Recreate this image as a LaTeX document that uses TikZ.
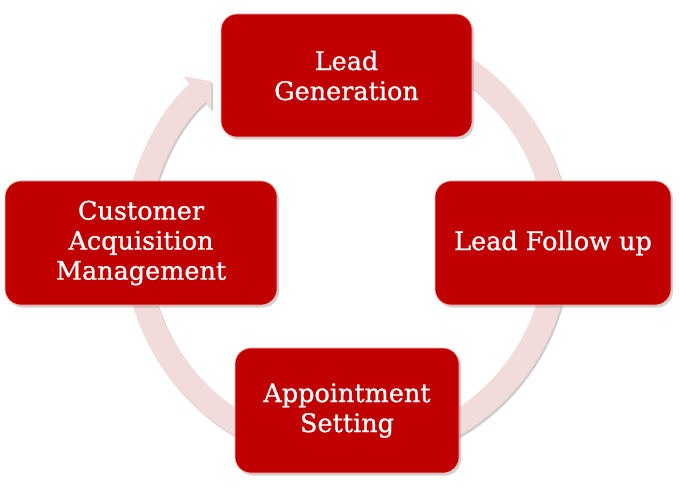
\documentclass[tikz,border=0pt]{standalone}
\usepackage{fontspec}
\setmainfont{DejaVu Serif}
\newfontfamily\stagefont[FakeBold=0.9]{DejaVu Serif}
\usetikzlibrary{arrows.meta, shadows}

\definecolor{boxred}{HTML}{C00000}
\definecolor{ringpink}{HTML}{F2DCDB}

\begin{document}
\begin{tikzpicture}[x=1pt, y=1pt,
    stage/.style={draw=red!30!white, line width=0.6pt, fill=boxred, text=white,
        rounded corners=16pt, align=center, inner sep=4pt,
        font=\stagefont\fontsize{25.5}{30}\selectfont,
        drop shadow={shadow xshift=2pt, shadow yshift=-2.5pt, opacity=0.35}},
    ring/.style={line width=24pt, draw=ringpink,
        -{Triangle[length=18pt, width=42pt]}},
    ringshadow/.style={line width=24pt, draw=black, opacity=0.2,
        -{Triangle[length=18pt, width=42pt]}}]
    \useasboundingbox[fill=white] (0, 0) rectangle (680, 488);

    \coordinate (mid) at (347, 245);

    % cycle ring behind the boxes
    \draw[ringshadow] ([shift={(1.5, -2)}]mid) ++(80:211) arc[start angle=80, end angle=-230, radius=211];
    \draw[ring] (mid) ++(80:211) arc[start angle=80, end angle=-230, radius=211];

    \node[stage, minimum width=251pt, minimum height=123pt] (gen) at (346.5, 412.5) {Lead\\Generation};
    \node[stage, minimum width=236pt, minimum height=124pt] (follow) at (553, 245) {Lead Follow up};
    \node[stage, minimum width=224pt, minimum height=125pt] (appt) at (347, 77.5) {Appointment\\Setting};
    \node[stage, minimum width=272pt, minimum height=124pt] (cust) at (141, 245) {Customer\\Acquisition\\Management};
\end{tikzpicture}
\end{document}
